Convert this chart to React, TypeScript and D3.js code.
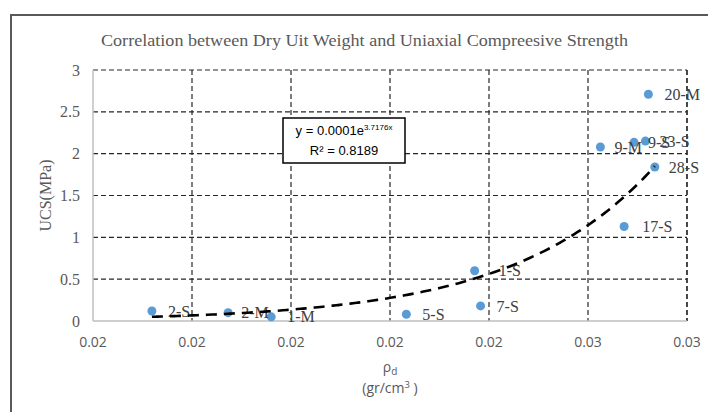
import React from "react";
import * as d3 from "d3";

const sampleLabels = ["2-S", "2-M", "1-M", "5-S", "7-S", "1-S", "9-M", "9-S", "23-S", "20-M", "28-S", "17-S"];
const density = [0.01719, 0.01873, 0.0196, 0.02233, 0.02383, 0.02371, 0.02625, 0.02693, 0.02716, 0.02722, 0.02735, 0.02673];
const ucs = [0.12, 0.1, 0.05, 0.08, 0.18, 0.6, 2.08, 2.135, 2.15, 2.71, 1.84, 1.13];
const labelDx = [16, 13, 16, 16, 16, 24, 14, 14, 14, 16, 14, 18];

const xTicks = [0.016, 0.018, 0.02, 0.022, 0.024, 0.026, 0.028];
const yTicks = [0, 0.5, 1, 1.5, 2, 2.5, 3];

// visually fitted exponential trend (start/end of Excel trendline)
const trendStart = { x: 0.01719, y: 0.05 };
const trendEnd = { x: 0.02735, y: 1.85 };

const W = 708, H = 412;
const L = 93, R = 687, T = 70, B = 321;

export default function App() {
  const x = d3.scaleLinear().domain([0.016, 0.028]).range([L, R]);
  const y = d3.scaleLinear().domain([0, 3]).range([B, T]);
  const b = Math.log(trendEnd.y / trendStart.y) / (trendEnd.x - trendStart.x);
  const trendPts = d3.range(0, 101).map((i) => {
    const xv = trendStart.x + ((trendEnd.x - trendStart.x) * i) / 100;
    return [xv, trendStart.y * Math.exp(b * (xv - trendStart.x))] as [number, number];
  });
  const line = d3.line<[number, number]>().x((d) => x(d[0])).y((d) => y(d[1])).curve(d3.curveMonotoneX);
  const fmt = d3.format(".2f");
  const serif = "'Liberation Serif', 'Times New Roman', serif";
  const sans = "'Liberation Sans', Arial, sans-serif";
  const sans2 = "'Open Sans', 'Liberation Sans', sans-serif";

  return (
    <svg width={W} height={H} style={{ position: "absolute", left: 0, top: 0, background: "#fff" }}>
      <rect x={0} y={0} width={W} height={H} fill="#fff" />
      {/* frame */}
      <line x1={11} y1={15} x2={W} y2={15} stroke="#595959" strokeWidth={2} />
      <line x1={11} y1={14} x2={11} y2={H} stroke="#595959" strokeWidth={2} />
      <text x={101} y={46} textLength={527} lengthAdjust="spacingAndGlyphs" fontFamily={serif} fontSize={16} fill="#595959">
        Correlation between Dry Uit Weight and  Uniaxial Compreesive Strength
      </text>
      {/* grid */}
      {yTicks.filter((t) => t > 0).map((t) => (
        <line key={"h" + t} x1={L} x2={R} y1={y(t)} y2={y(t)} stroke="#262626" strokeWidth={1.2} strokeDasharray="5,3" />
      ))}
      {xTicks.slice(1).map((t) => (
        <line key={"v" + t} x1={x(t)} x2={x(t)} y1={T} y2={B} stroke="#262626" strokeWidth={1.2} strokeDasharray="5,3" />
      ))}
      <line x1={R} x2={R} y1={T} y2={B} stroke="#262626" strokeWidth={1.2} strokeDasharray="5,3" />
      {/* axes */}
      <line x1={L} x2={L} y1={T} y2={B} stroke="#bfbfbf" strokeWidth={1.5} />
      <line x1={L} x2={R} y1={B} y2={B} stroke="#bfbfbf" strokeWidth={1.5} />
      {yTicks.map((t) => (
        <text key={"yt" + t} x={80} y={y(t)} dy="0.35em" textAnchor="end" fontFamily={serif} fontSize={16} fill="#595959">
          {String(t)}
        </text>
      ))}
      {xTicks.map((t) => (
        <text key={"xt" + t} x={x(t)} y={342} dy="0.35em" textAnchor="middle" fontFamily={sans2} fontSize={14} fill="#595959">
          {fmt(t)}
        </text>
      ))}
      <text transform={`translate(45,${(T + B) / 2}) rotate(-90)`} textAnchor="middle" dy="0.35em" fontFamily={serif} fontSize={16} fill="#595959">
        UCS(MPa)
      </text>
      <text x={390} y={372} textAnchor="middle" fontFamily={sans2} fontSize={14} fill="#595959">
        ρ<tspan fontSize={10} dy={3}>d</tspan>
      </text>
      <text x={390} y={393} textAnchor="middle" fontFamily={sans2} fontSize={14} fill="#595959">
        (gr/cm<tspan fontSize={9.5} dy={-5}>3</tspan><tspan dy={5}> )</tspan>
      </text>
      {/* points */}
      {density.map((d, i) => (
        <circle key={"p" + i} cx={x(d)} cy={y(ucs[i])} r={4.5} fill="#5B9BD5" />
      ))}
      {density.map((d, i) => (
        <text key={"l" + i} x={x(d) + labelDx[i]} y={y(ucs[i])} dy="0.35em" fontFamily={serif} fontSize={16} fill="#404040">
          {sampleLabels[i]}
        </text>
      ))}
      {/* trend */}
      <path d={line(trendPts) || ""} fill="none" stroke="#000" strokeWidth={2.6} strokeDasharray="11,7" />
      {/* equation box */}
      <rect x={283} y={118} width={122} height={45} fill="#fff" stroke="#000" strokeWidth={1.5} />
      <text x={344} y={135} textAnchor="middle" fontFamily={sans} fontSize={13} fill="#000">
        y = 0.0001e<tspan fontSize={8} dy={-5}>3.7176x</tspan>
      </text>
      <text x={344} y={155} textAnchor="middle" fontFamily={sans} fontSize={13} fill="#000">
        R² = 0.8189
      </text>
    </svg>
  );
}
